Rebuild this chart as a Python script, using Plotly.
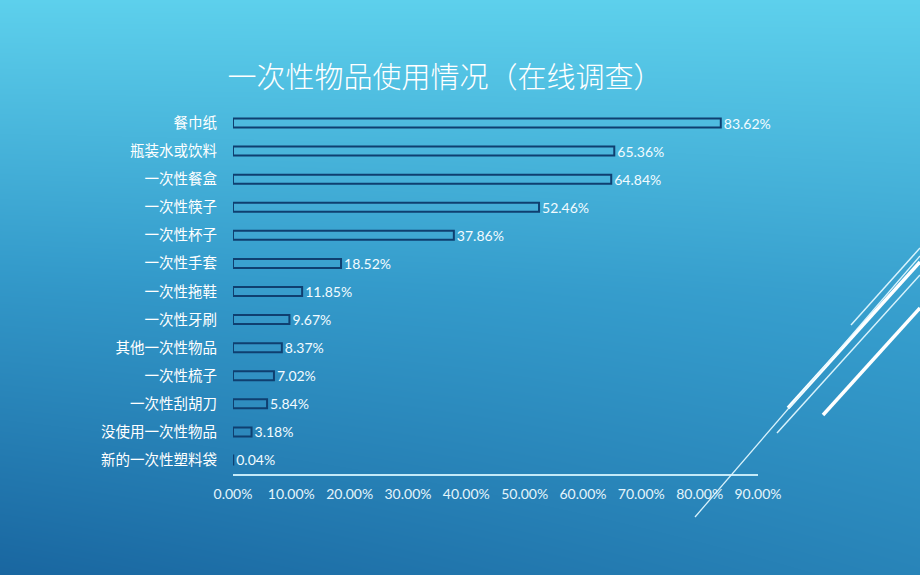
import plotly.graph_objects as go

categories = ["餐巾纸", "瓶装水或饮料", "一次性餐盒", "一次性筷子", "一次性杯子", "一次性手套",
              "一次性拖鞋", "一次性牙刷", "其他一次性物品", "一次性梳子", "一次性刮胡刀",
              "没使用一次性物品", "新的一次性塑料袋"]
values = [83.62, 65.36, 64.84, 52.46, 37.86, 18.52, 11.85, 9.67, 8.37, 7.02, 5.84, 3.18, 0.04]
labels = [f"{v:.2f}%" for v in values]
title_text = "一次性物品使用情况（在线调查）"

W, H = 920, 575

def px_x(x):
    return x / W

def px_y(y):
    return 1 - y / H

fig = go.Figure()

# background gradient (bottom-left dark, top light)
bg_z = [[0.0, 0.14, 0.28],
        [0.46, 0.5, 0.56],
        [1.0, 1.0, 1.0]]
fig.add_trace(go.Heatmap(
    z=bg_z, x=[0, 0.5, 1], y=[0, 0.5, 1], zsmooth="best",
    colorscale=[[0, "rgb(25,102,160)"], [0.5, "rgb(52,155,203)"], [1, "rgb(93,208,236)"]],
    zmin=0, zmax=1, showscale=False, hoverinfo="skip",
    xaxis="x", yaxis="y"))

fig.add_trace(go.Bar(
    x=values, y=categories, orientation="h",
    width=0.32,
    marker=dict(color="rgba(120,205,240,0.08)", line=dict(color="#0F3F70", width=2)),
    text=labels, textposition="outside", cliponaxis=False, constraintext="none",
    textfont=dict(family="Lato, Noto Sans CJK SC", size=14, color="#F2FBFF"),
    xaxis="x2", yaxis="y2", showlegend=False))

lines = [
    # (x0, y0, x1, y1, width, color)
    (851, 325, 920, 248, 1.5, "rgba(225,248,255,0.95)"),
    (788, 408, 920, 262, 3.5, "#FFFFFF"),
    (777, 433, 920, 275, 1.5, "rgba(225,248,255,0.95)"),
    (823, 415, 920, 308, 3.5, "#FFFFFF"),
    (695, 517, 920, 256, 1.3, "rgba(225,248,255,0.95)"),
]
shapes = []
for x0, y0, x1, y1, w, c in lines:
    shapes.append(dict(type="line", xref="paper", yref="paper",
                       x0=px_x(x0), y0=px_y(y0), x1=px_x(x1), y1=px_y(y1),
                       line=dict(color=c, width=w)))

fig.update_layout(
    width=W, height=H,
    margin=dict(l=0, r=0, t=0, b=0, pad=0, autoexpand=False),
    paper_bgcolor="#2A8CC4",
    plot_bgcolor="rgba(0,0,0,0)",
    showlegend=False,
    shapes=shapes,
    title=dict(text=title_text, x=445 / W, y=px_y(78), xanchor="center", yanchor="middle",
               font=dict(family="Noto Sans CJK SC", size=29, color="#FFFFFF", weight=300)),
    xaxis=dict(domain=[0, 1], range=[0, 1], visible=False, fixedrange=True, automargin=False),
    yaxis=dict(domain=[0, 1], range=[0, 1], visible=False, fixedrange=True, automargin=False),
    xaxis2=dict(domain=[px_x(233), px_x(758)], range=[0, 90], dtick=10, tick0=0,
                tickformat=".2f", ticksuffix="%", anchor="y2", automargin=False,
                showgrid=False, zeroline=False, showline=True,
                linecolor="#C4EAF8", linewidth=1.5,
                ticks="outside", ticklen=6, tickcolor="rgba(0,0,0,0)",
                tickfont=dict(family="Lato, Noto Sans CJK SC", size=14, color="#E4F5FC")),
    yaxis2=dict(domain=[px_y(474), px_y(109)], range=[12.5, -0.5], anchor="x2",
                type="category", showgrid=False, zeroline=False, showline=False,
                automargin=False,
                ticks="outside", ticklen=12, tickcolor="rgba(0,0,0,0)",
                tickfont=dict(family="Noto Sans CJK SC", size=14.5, color="#FFFFFF")),
)

fig.write_html("out.html", config={"displayModeBar": False},
               post_script="document.body.style.margin='0';document.body.style.overflow='hidden';")
